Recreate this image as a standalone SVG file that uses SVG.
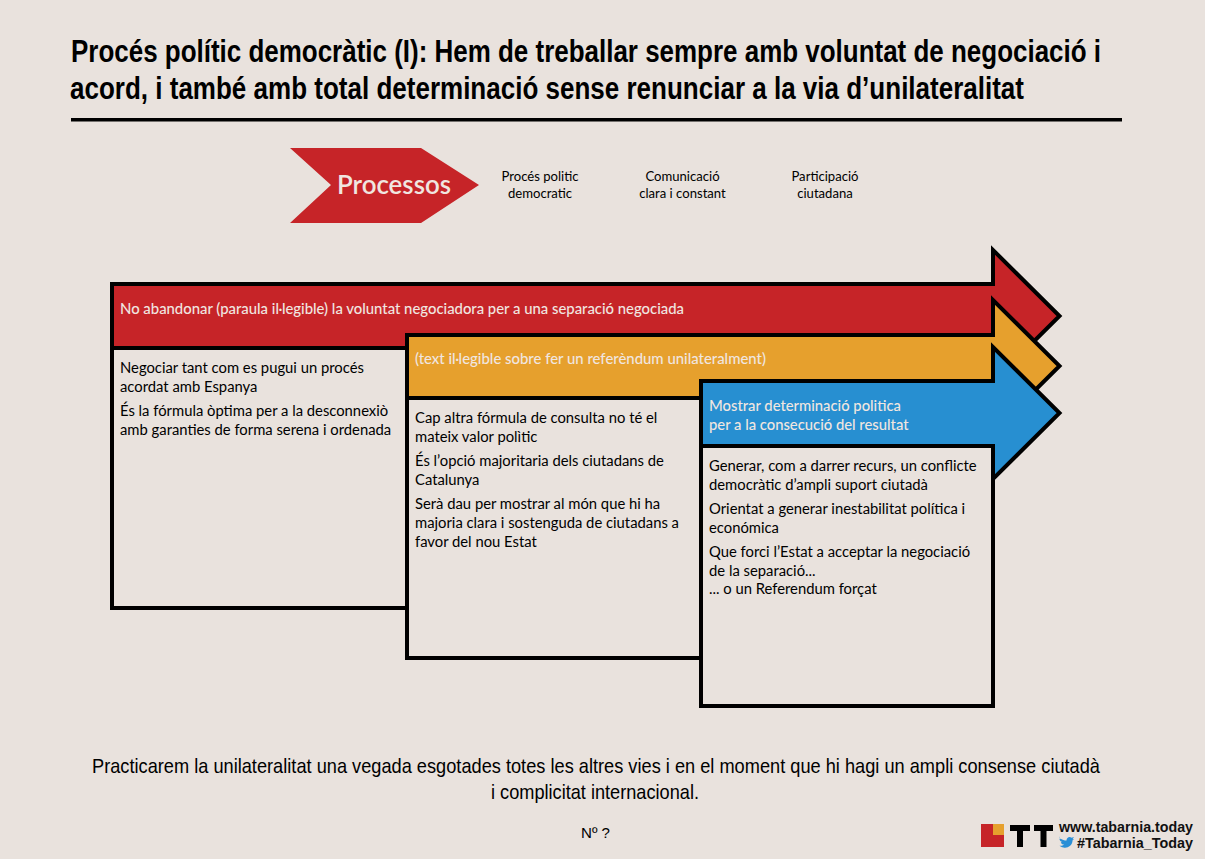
<svg xmlns="http://www.w3.org/2000/svg" width="1205" height="859" viewBox="0 0 1205 859">
<style>
.t{font-family:"Liberation Sans",Arial,sans-serif;font-weight:700;font-size:28px;fill:#000}
.f{font-family:"Liberation Sans",Arial,sans-serif;font-size:20px;fill:#000}
.c{font-family:Lato,"Noto Sans",sans-serif;font-size:14.8px;fill:#000}
.w{font-family:Lato,"Noto Sans",sans-serif;font-size:14.8px;font-weight:500;fill:#f0e6e0}
.h{font-family:Lato,"Noto Sans",sans-serif;font-size:13.100px;fill:#000;text-anchor:middle}
.s{stroke:#000;stroke-width:4;stroke-linejoin:miter}
.b{fill:#e9e2dd}
.l{font-family:"Liberation Sans",Arial,sans-serif;font-weight:700;font-size:15px;fill:#111}
</style>
<rect width="1205" height="859" fill="#e9e2dd"/>
<g id="title">
<text class="t" transform="translate(71,62) scale(1,1.11)" textLength="1030" lengthAdjust="spacingAndGlyphs">Procés polític democràtic (I): Hem de treballar sempre amb voluntat de negociació i</text>
<text class="t" transform="translate(70,99) scale(1,1.11)" textLength="954" lengthAdjust="spacingAndGlyphs">acord, i també amb total determinació sense renunciar a la via d’unilateralitat</text>
<rect x="71" y="118" width="1051" height="3.500" fill="#000"/>
</g>
<g id="header">
<polygon points="290,148 421,148 479,185 421,223 290,223 331,185" fill="#c62428"/>
<text x="337" y="194" font-family="Lato,'Noto Sans',sans-serif" font-size="26" font-weight="600" fill="#f0e6e0" textLength="114" lengthAdjust="spacingAndGlyphs">Processos</text>
<text class="h" x="540" y="180.500">Procés politic</text><text class="h" x="540" y="197.500">democratic</text>
<text class="h" x="682.500" y="180.500">Comunicació</text><text class="h" x="682.500" y="197.500">clara i constant</text>
<text class="h" x="825" y="180.500">Participació</text><text class="h" x="825" y="197.500">ciutadana</text>
</g>
<g id="connectors"></g>
<g id="node-red">
<path class="s" fill="#c62428" d="M112,284H993V250L1059.500,316L993,382V348H112Z"/>
<rect class="s b" x="112" y="348" width="295" height="260"/>
<text class="w" x="120" y="313.500" textLength="564" lengthAdjust="spacingAndGlyphs">No abandonar (paraula il·legible) la voluntat negociadora per a una separació negociada</text>
<text class="c" x="120" y="372.700">Negociar tant com es pugui un procés</text>
<text class="c" x="120" y="391.700">acordat amb Espanya</text>
<text class="c" x="120" y="415.700">És la fórmula òptima per a la desconnexiò</text>
<text class="c" x="120" y="434.700">amb garanties de forma serena i ordenada</text>
</g>
<g id="node-orange">
<path class="s" fill="#e6a02d" d="M407,335H993V300L1059.500,366L993,432V398H407Z"/>
<rect class="s b" x="407" y="398" width="294" height="260"/>
<text class="w" x="415" y="363.500" textLength="351" lengthAdjust="spacingAndGlyphs">(text il·legible sobre fer un referèndum unilateralment)</text>
<text class="c" x="415" y="422.700">Cap altra fórmula de consulta no té el</text>
<text class="c" x="415" y="441.700">mateix valor polìtic</text>
<text class="c" x="415" y="465.700">És l’opció majoritaria dels ciutadans de</text>
<text class="c" x="415" y="484.700">Catalunya</text>
<text class="c" x="415" y="508.700">Serà dau per mostrar al món que hi ha</text>
<text class="c" x="415" y="527.700">majoria clara i sostenguda de ciutadans a</text>
<text class="c" x="415" y="546.700">favor del nou Estat</text>
</g>
<g id="node-blue">
<path class="s" fill="#278fd1" d="M701,381H993V347L1059.500,413L993,479V446H701Z"/>
<rect class="s b" x="701" y="446" width="292" height="260"/>
<text class="w" x="709" y="410.500">Mostrar determinació politica</text>
<text class="w" x="709" y="429.500">per a la consecució del resultat</text>
<text class="c" x="709" y="470.700">Generar, com a darrer recurs, un conflicte</text>
<text class="c" x="709" y="489.700">democràtic d’ampli suport ciutadà</text>
<text class="c" x="709" y="513.700">Orientat a generar inestabilitat política i</text>
<text class="c" x="709" y="532.700">económica</text>
<text class="c" x="709" y="556.700">Que forci l’Estat a acceptar la negociació</text>
<text class="c" x="709" y="575.700">de la separació...</text>
<text class="c" x="709" y="593.700">... o un Referendum forçat</text>
</g>
<g id="footer">
<text class="f" transform="translate(92,773) scale(1,1.05)" textLength="1008" lengthAdjust="spacingAndGlyphs">Practicarem la unilateralitat una vegada esgotades totes les altres vies i en el moment que hi hagi un ampli consense ciutadà</text>
<text class="f" transform="translate(491,799) scale(1,1.05)" textLength="208" lengthAdjust="spacingAndGlyphs">i complicitat internacional.</text>
<text x="581" y="838" font-family="'Liberation Sans',sans-serif" font-size="15" fill="#000" textLength="29" lengthAdjust="spacingAndGlyphs">Nº ?</text>
</g>
<g id="logo">
<rect x="981" y="824" width="23" height="23" fill="#c62428"/>
<rect x="993" y="824" width="11" height="11" fill="#e6a02d"/>
<path d="M1010,825H1030V831H1023V847H1017V831H1010Z" fill="#000"/>
<path d="M1034,825H1053V831H1046.500V847H1040.500V831H1034Z" fill="#000"/>
<text class="l" x="1059" y="832" textLength="134" lengthAdjust="spacingAndGlyphs">www.tabarnia.today</text>
<path d="M1059.500,838c3,2 5,2.500 7,2.500c0-3 3-4.500 5-2.800l2.500-.7-1.500,2.200 1.500,-.3-1.500,1.700c0,5-5,8-9,7-2-.5-3-1-4-1.800 2,.2 3.500-.3 4.800-1.200-2-.2-3-1-3.500-2.400l1.500-.1c-2-.6-2.800-2-2.800-3.300l1.500.4c-1.300-1-1.500-2.500-.8-3.500Z" fill="#2a8fd6"/>
<text class="l" x="1077" y="848" textLength="116" lengthAdjust="spacingAndGlyphs">#Tabarnia_Today</text>
</g>
</svg>
